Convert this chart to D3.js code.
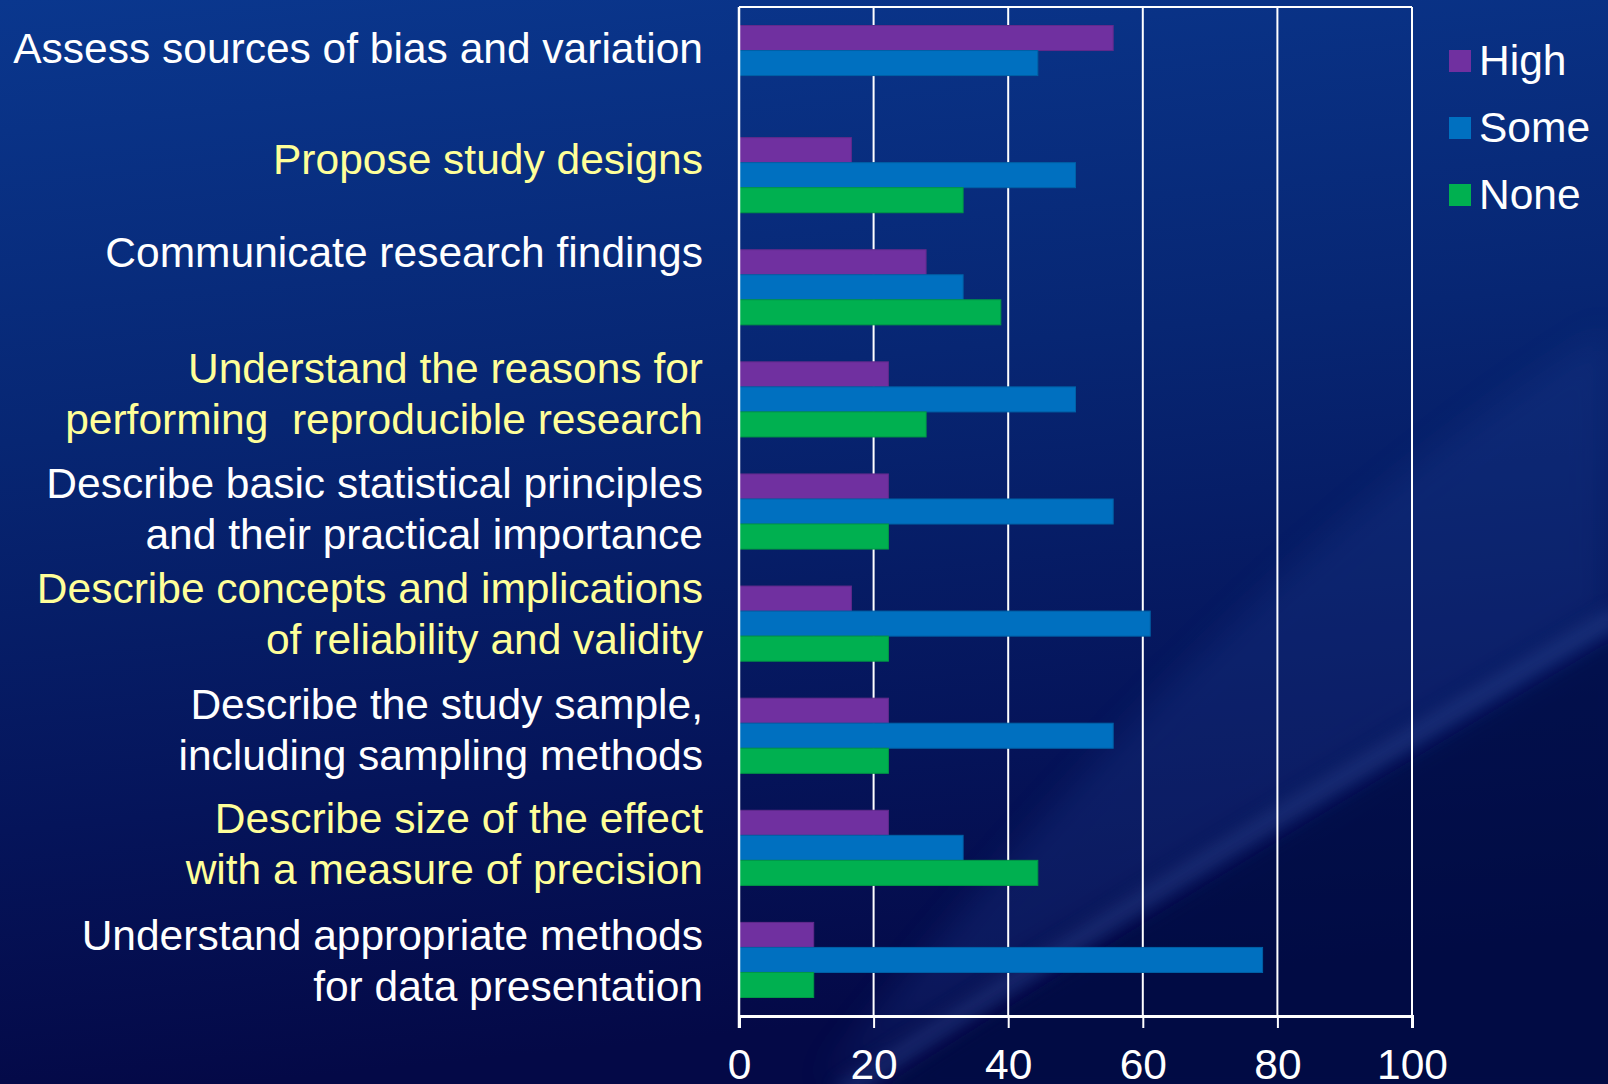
<!DOCTYPE html>
<html>
<head>
<meta charset="utf-8">
<script src="https://cdn.jsdelivr.net/npm/d3@7/dist/d3.min.js"></script>
<style>
  html, body { margin: 0; padding: 0; background: #061f6a; }
  svg { display: block; }
  text { font-family: "Liberation Sans", Arial, sans-serif; white-space: pre; }
</style>
</head>
<body>
<svg id="chart" width="1608" height="1084"></svg>
<script>
// Skill objectives (each label split into its display lines)
const categories = [
  ["Assess sources of bias and variation"],
  ["Propose study designs"],
  ["Communicate research findings"],
  ["Understand the reasons for", "performing  reproducible research"],
  ["Describe basic statistical principles", "and their practical importance"],
  ["Describe concepts and implications", "of reliability and validity"],
  ["Describe the study sample,", "including sampling methods"],
  ["Describe size of the effect", "with a measure of precision"],
  ["Understand appropriate methods", "for data presentation"]
];
// Highlighted objectives are written in yellow
const highlighted = [false, true, false, true, false, true, false, true, false];

const seriesNames = ["High", "Some", "None"];
const high = [55.6, 16.7, 27.8, 22.2, 22.2, 16.7, 22.2, 22.2, 11.1];
const some = [44.4, 50.0, 33.3, 50.0, 55.6, 61.1, 55.6, 33.3, 77.8];
const none = [0.0, 33.3, 38.9, 27.8, 22.2, 22.2, 22.2, 44.4, 11.1];
const xTicks = [0, 20, 40, 60, 80, 100];

// Layout
const W = 1608, H = 1084;
const plot = { left: 739, right: 1412, top: 7, bottom: 1016 };
const colors = { High: "#7030A0", Some: "#0070C0", None: "#00B050" };
const fontSize = 42.5;
const lineGap = 51;
// vertical nudge of each label's first baseline relative to its band centre
const labelNudge = [0, -1, -20, -16, -14, -21, -17, -15, -10];

const svg = d3.select("#chart");
const defs = svg.append("defs");

// Background: deep blue gradient with a soft diagonal light sweep
const bg = defs.append("linearGradient").attr("id", "bg")
  .attr("x1", 0).attr("y1", 0).attr("x2", 0.15).attr("y2", 1);
bg.append("stop").attr("offset", 0).attr("stop-color", "#0a378e");
bg.append("stop").attr("offset", 0.4).attr("stop-color", "#072673");
bg.append("stop").attr("offset", 0.75).attr("stop-color", "#05145a");
bg.append("stop").attr("offset", 1).attr("stop-color", "#040947");
svg.append("rect").attr("width", W).attr("height", H).attr("fill", "url(#bg)");

const blur = defs.append("filter").attr("id", "soft")
  .attr("x", "-20%").attr("y", "-20%").attr("width", "140%").attr("height", "140%");
blur.append("feGaussianBlur").attr("stdDeviation", 16);
const blurThin = defs.append("filter").attr("id", "softThin")
  .attr("x", "-20%").attr("y", "-20%").attr("width", "140%").attr("height", "140%");
blurThin.append("feGaussianBlur").attr("stdDeviation", 9);

// lighter wash above the sweep on the lower right
svg.append("path")
  .attr("d", "M820,1084 Q1160,880 1608,610 L1608,330 Q1230,560 820,1084 Z")
  .attr("fill", "#1a3a8c").attr("opacity", 0.3).attr("filter", "url(#soft)");
// the sweep itself
svg.append("path")
  .attr("d", "M840,1095 Q1130,900 1620,615")
  .attr("fill", "none").attr("stroke", "#3a5aa8").attr("stroke-width", 18)
  .attr("opacity", 0.4).attr("filter", "url(#softThin)");
// darker area beneath the sweep
svg.append("path")
  .attr("d", "M870,1095 Q1150,915 1620,635 L1620,1095 Z")
  .attr("fill", "#030843").attr("opacity", 0.55).attr("filter", "url(#softThin)");

// Scales
const x = d3.scaleLinear().domain([0, 100]).range([plot.left, plot.right]);
const y0 = d3.scaleBand()
  .domain(d3.range(categories.length))
  .range([plot.top, plot.bottom])
  .paddingInner(0.33).paddingOuter(0.165);
const y1 = d3.scaleBand().domain(seriesNames).range([0, y0.bandwidth()]);

const seriesValues = { High: high, Some: some, None: none };

// Gridlines and plot frame
const grid = svg.append("g");
grid.selectAll("line.grid").data(xTicks.slice(1))
  .join("line")
  .attr("x1", d => x(d)).attr("x2", d => x(d))
  .attr("y1", plot.top).attr("y2", plot.bottom)
  .attr("stroke", "#ffffff").attr("stroke-width", 2);
grid.append("line")
  .attr("x1", plot.left).attr("x2", plot.right)
  .attr("y1", plot.top).attr("y2", plot.top)
  .attr("stroke", "#ffffff").attr("stroke-width", 2);

// Bars
const groups = svg.append("g").selectAll("g")
  .data(d3.range(categories.length))
  .join("g")
  .attr("transform", i => `translate(0,${y0(i)})`);
groups.selectAll("rect")
  .data(i => seriesNames.map(s => ({ s, v: seriesValues[s][i] })).filter(d => d.v > 0))
  .join("rect")
  .attr("x", x(0))
  .attr("y", d => y1(d.s))
  .attr("width", d => x(d.v) - x(0))
  .attr("height", y1.bandwidth())
  .attr("fill", d => colors[d.s])
  .attr("stroke", d => d3.color(colors[d.s]).darker(0.4))
  .attr("stroke-width", 1);

// Axes
const xAxis = d3.axisBottom(x).tickValues(xTicks).tickSize(12).tickPadding(21);
const gx = svg.append("g").attr("transform", `translate(0,${plot.bottom})`).call(xAxis);
gx.select(".domain").attr("stroke", "#ffffff").attr("stroke-width", 3);
gx.selectAll(".tick line").attr("stroke", "#ffffff").attr("stroke-width", 2);
gx.selectAll(".tick text")
  .attr("fill", "#ffffff")
  .attr("font-size", fontSize)
  .attr("font-family", "Liberation Sans, Arial, sans-serif");

const yAxisLine = svg.append("g");
yAxisLine.append("line")
  .attr("x1", plot.left).attr("x2", plot.left)
  .attr("y1", plot.top).attr("y2", plot.bottom + 12)
  .attr("stroke", "#ffffff").attr("stroke-width", 2.5);
yAxisLine.append("line")
  .attr("x1", plot.right).attr("x2", plot.right)
  .attr("y1", plot.top).attr("y2", plot.bottom + 12)
  .attr("stroke", "#ffffff").attr("stroke-width", 2);

// Category labels
const labels = svg.append("g").selectAll("text")
  .data(categories)
  .join("text")
  .attr("text-anchor", "end")
  .attr("font-size", fontSize)
  .attr("fill", (d, i) => highlighted[i] ? "#FFFF99" : "#ffffff")
  .attr("y", (d, i) => y0(i) + y0.bandwidth() / 2 + labelNudge[i]);
labels.selectAll("tspan")
  .data(d => d)
  .join("tspan")
  .attr("x", 703)
  .attr("dy", (d, j) => j === 0 ? 0 : lineGap)
  .text(d => d);

// Legend
const legend = svg.append("g").selectAll("g")
  .data(seriesNames)
  .join("g")
  .attr("transform", (d, i) => `translate(1449,${50 + i * 67})`);
legend.append("rect")
  .attr("width", 22).attr("height", 22)
  .attr("fill", d => colors[d]);
legend.append("text")
  .attr("x", 30).attr("y", 25)
  .attr("font-size", fontSize)
  .attr("fill", "#ffffff")
  .text(d => d);
</script>
</body>
</html>
